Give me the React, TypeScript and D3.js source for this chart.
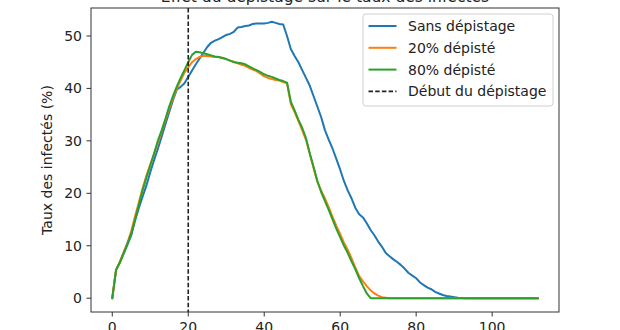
import React from "react";
import * as d3 from "d3";

const seriesNames = ["Sans dépistage", "20% dépisté", "80% dépisté"];
const seriesColors = ["#1f77b4", "#ff7f0e", "#2ca02c"];
const screeningLabel = "Début du dépistage";
const screeningDay = 20;
const lastDay = 112;

// Values per day (index = day)
const sansDepistage = [
  0, 5.4, 6.8, 8.5, 10.2, 12.0, 14.8, 17.2, 19.4, 21.5,
  24.0, 26.3, 28.5, 30.8, 33.2, 35.5, 37.8, 39.8, 40.3, 41.0,
  42.2, 43.4, 44.6, 45.7, 46.8, 47.9, 48.7, 49.1, 49.4, 49.8,
  50.2, 50.4, 50.8, 51.6, 51.7, 51.9, 52.0, 52.3, 52.4, 52.4,
  52.4, 52.5, 52.7, 52.5, 52.3, 52.2, 50.0, 47.5, 46.2, 45.0,
  43.5, 42.0, 40.5, 38.5, 36.5, 34.5, 32.0, 30.2, 28.5, 26.5,
  24.5, 22.3, 20.5, 19.0, 17.2, 16.0, 15.4, 14.3, 13.0, 12.0,
  10.8, 9.8, 8.6, 8.0, 7.4, 6.9, 6.3, 5.6, 4.8, 4.3,
  3.8, 3.0, 2.5, 2.0, 1.7, 1.2, 0.9, 0.6, 0.4, 0.3,
  0.2, 0.1, 0.05, 0, 0, 0, 0, 0, 0, 0,
  0, 0, 0, 0, 0, 0, 0, 0, 0, 0,
  0, 0, 0,
];
const depiste20 = [
  0, 5.4, 7.0, 8.8, 10.6, 12.8, 15.6, 18.3, 21.0, 23.4,
  25.5, 27.5, 29.6, 31.8, 34.0, 36.2, 38.2, 40.0, 41.5, 43.0,
  44.0, 45.0, 45.6, 46.0, 46.2, 46.2, 46.1, 46.0, 46.0, 45.8,
  45.6, 45.3, 45.1, 44.8, 44.5, 44.3, 43.9, 43.6, 43.3, 42.8,
  42.3, 42.0, 41.8, 41.6, 41.5, 41.2, 41.0, 37.0, 35.5, 33.8,
  32.0, 30.2, 27.5, 24.8, 22.2, 20.5, 19.0, 17.3, 15.5, 13.8,
  12.2, 10.6, 9.2, 7.6, 5.8, 4.2, 3.2, 2.3, 1.5, 0.9,
  0.5, 0.2, 0.1, 0, 0, 0, 0, 0, 0, 0,
  0, 0, 0, 0, 0, 0, 0, 0, 0, 0,
  0, 0, 0, 0, 0, 0, 0, 0, 0, 0,
  0, 0, 0, 0, 0, 0, 0, 0, 0, 0,
  0, 0, 0,
];
const depiste80 = [
  0, 5.4, 6.8, 8.6, 10.4, 12.3, 15.0, 17.8, 20.6, 23.0,
  25.3, 27.6, 30.0, 32.0, 34.2, 36.6, 38.6, 40.4, 42.0, 43.5,
  45.0, 46.4, 47.0, 46.9, 46.7, 46.5, 46.3, 46.1, 46.0, 45.8,
  45.6, 45.3, 45.0, 44.9, 44.8, 44.6, 44.2, 43.8, 43.5, 43.1,
  42.7, 42.4, 42.2, 41.9, 41.6, 41.4, 41.1, 37.5, 35.8, 34.0,
  32.5, 30.5, 27.6, 25.0, 22.3, 20.2, 18.5, 16.8, 15.0, 13.2,
  11.6, 10.0, 8.6, 7.0, 5.5, 3.8, 2.3, 0.9, 0, 0,
  0, 0, 0, 0, 0, 0, 0, 0, 0, 0,
  0, 0, 0, 0, 0, 0, 0, 0, 0, 0,
  0, 0, 0, 0, 0, 0, 0, 0, 0, 0,
  0, 0, 0, 0, 0, 0, 0, 0, 0, 0,
  0, 0, 0,
];
const seriesValues = [sansDepistage, depiste20, depiste80];
const xTicks = [0, 20, 40, 60, 80, 100];
const yTicks = [0, 10, 20, 30, 40, 50];
const titleText = "Effet du dépistage sur le taux des infectés";
const yLabel = "Taux des infectés (%)";

const W = 620, H = 330;
const L = 91, R = 559, T = 8, B = 312;
const FONT = "DejaVu Sans, sans-serif";
const FS = 14;

export default function App() {
  const x = d3.scaleLinear().domain([-0.05 * lastDay, lastDay * 1.05]).range([L, R]);
  const yMax = 52.7;
  const y = d3.scaleLinear().domain([-0.05 * yMax, yMax * 1.05]).range([B, T]);
  const line = d3.line<number>().x((_, i) => x(i)).y((d) => y(d));

  const legW = 190, legH = 92;
  const legX = R - 6 - legW, legY = 14;
  const rowY = (i: number) => legY + 12 + i * 21.8;

  return (
    <svg width={W} height={H} style={{ position: "absolute", left: 0, top: 0, background: "#fff" }}>
      <rect x={0} y={0} width={W} height={H} fill="#fff" />
      <text x={(L + R) / 2} y={2} textAnchor="middle" fontFamily={FONT} fontSize={15.5} fill="#222">
        {titleText}
      </text>
      <defs>
        <clipPath id="plot">
          <rect x={L} y={T} width={R - L} height={B - T} />
        </clipPath>
      </defs>
      <g clipPath="url(#plot)">
        {seriesValues.map((vals, k) => (
          <path key={k} d={line(vals) || ""} fill="none" stroke={seriesColors[k]} strokeWidth={2} strokeLinejoin="round" strokeLinecap="square" />
        ))}
        <line x1={x(screeningDay)} x2={x(screeningDay)} y1={T} y2={B} stroke="#222" strokeWidth={1.6} strokeDasharray="4.5,2.2" />
      </g>
      <rect x={L} y={T} width={R - L} height={B - T} fill="none" stroke="#333" strokeWidth={1} />
      {xTicks.map((t) => (
        <g key={"x" + t}>
          <line x1={x(t)} x2={x(t)} y1={B} y2={B + 4.5} stroke="#333" strokeWidth={1} />
          <text x={x(t)} y={B + 19.5} textAnchor="middle" fontFamily={FONT} fontSize={FS} fill="#222">{t}</text>
        </g>
      ))}
      {yTicks.map((t) => (
        <g key={"y" + t}>
          <line x1={L - 4.5} x2={L} y1={y(t)} y2={y(t)} stroke="#333" strokeWidth={1} />
          <text x={L - 9} y={y(t)} dy="0.36em" textAnchor="end" fontFamily={FONT} fontSize={FS} fill="#222">{t}</text>
        </g>
      ))}
      <text transform={`translate(52,${(T + B) / 2}) rotate(-90)`} textAnchor="middle" fontFamily={FONT} fontSize={FS} fill="#222">
        {yLabel}
      </text>
      <rect x={legX} y={legY} width={legW} height={legH} rx={3} fill="#fff" fillOpacity={0.8} stroke="#d0d0d0" strokeWidth={1} />
      {seriesNames.map((n, i) => (
        <g key={n}>
          <line x1={legX + 5.5} x2={legX + 33.5} y1={rowY(i)} y2={rowY(i)} stroke={seriesColors[i]} strokeWidth={2} />
          <text x={legX + 45} y={rowY(i)} dy="0.36em" fontFamily={FONT} fontSize={FS} fill="#222">{n}</text>
        </g>
      ))}
      <line x1={legX + 5.5} x2={legX + 33.5} y1={rowY(3)} y2={rowY(3)} stroke="#222" strokeWidth={1.6} strokeDasharray="4.5,2.2" />
      <text x={legX + 45} y={rowY(3)} dy="0.36em" fontFamily={FONT} fontSize={FS} fill="#222">{screeningLabel}</text>
    </svg>
  );
}
